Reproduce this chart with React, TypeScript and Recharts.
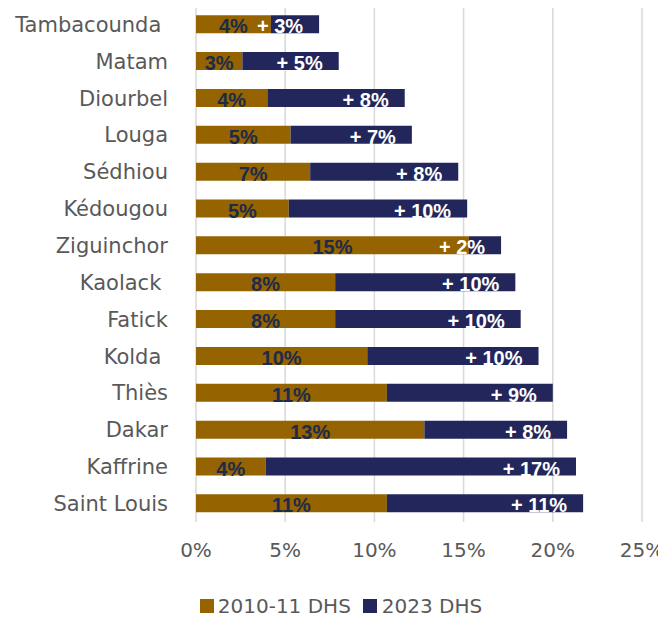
import React from "react";
import { BarChart, Bar, XAxis, YAxis, CartesianGrid, LabelList, Legend } from "recharts";

const regions = [
  "Tambacounda\u00a0",
  "Matam",
  "Diourbel",
  "Louga",
  "Sédhiou",
  "Kédougou",
  "Ziguinchor",
  "Kaolack\u00a0",
  "Fatick",
  "Kolda\u00a0",
  "Thiès",
  "Dakar",
  "Kaffrine",
  "Saint Louis",
];
const dhs2010 = [4.2, 2.6, 4.0, 5.3, 6.4, 5.2, 15.3, 7.8, 7.8, 9.6, 10.7, 12.8, 3.9, 10.7];
const gain2023 = [2.7, 5.4, 7.7, 6.8, 8.3, 10.0, 1.8, 10.1, 10.4, 9.6, 9.3, 8.0, 17.4, 11.0];
const labels2010 = ["4%", "3%", "4%", "5%", "7%", "5%", "15%", "8%", "8%", "10%", "11%", "13%", "4%", "11%"];
const labelsGain = ["+ 3%", "+ 5%", "+ 8%", "+ 7%", "+ 8%", "+ 10%", "+ 2%", "+ 10%", "+ 10%", "+ 10%", "+ 9%", "+ 8%", "+ 17%", "+ 11%"];
const xTicks = [0, 5, 10, 15, 20, 25];

const GOLD = "#956300";
const NAVY = "#22265a";
const labelFont = "'Liberation Sans', Arial, sans-serif";
const textFont = "'DejaVu Sans', sans-serif";

const data = regions.map((name, i) => ({
  name,
  base: dhs2010[i],
  gain: gain2023[i],
  baseLabel: labels2010[i],
  gainLabel: labelsGain[i],
}));

// gold segment: dark label centred in the bar
const CenterLabel = (props: any) => {
  const { x, y, width, height, value } = props;
  return (
    <text
      x={x + width / 2}
      y={y + height / 2 + 2}
      textAnchor="middle"
      dominantBaseline="central"
      fill="#1d2b4a"
      fontFamily={labelFont}
      fontWeight="bold"
      fontSize={20}
    >
      {value}
    </text>
  );
};

// navy segment: white label near the end
const EndLabel = (props: any) => {
  const { x, y, width, height, value } = props;
  return (
    <text
      x={x + width - 16}
      y={y + height / 2 + 2}
      textAnchor="end"
      dominantBaseline="central"
      fill="#ffffff"
      fontFamily={labelFont}
      fontWeight="bold"
      fontSize={20}
    >
      {value}
    </text>
  );
};

const LegendBox = () => (
  <div
    style={{
      display: "flex",
      justifyContent: "center",
      alignItems: "center",
      fontFamily: textFont,
      fontSize: 20,
      lineHeight: "24px",
      color: "#595959",
      paddingLeft: 16,
    }}
  >
    <span style={{ width: 14, height: 14, background: GOLD, marginRight: 4 }} />
    <span style={{ marginRight: 12 }}>2010-11 DHS</span>
    <span style={{ width: 14, height: 14, background: NAVY, marginRight: 5 }} />
    <span>2023 DHS</span>
  </div>
);

const App = () => {
  return (
    <div style={{ margin: "-8px 0 0 -8px", width: 666, height: 617 }}>
      <BarChart
        width={666}
        height={617}
        data={data}
        layout="vertical"
        barCategoryGap="25%"
        margin={{ top: 6, right: 24, bottom: 55, left: 0 }}
      >
        <CartesianGrid horizontal={false} stroke="#d9d9d9" strokeWidth={1.5} />
        <XAxis
          type="number"
          domain={[0, 25]}
          ticks={xTicks}
          tickFormatter={(v: number) => `${v}%`}
          axisLine={false}
          tickLine={false}
          tickMargin={15}
          height={40}
          tick={{ fill: "#595959", fontSize: 20, fontFamily: textFont }}
        />
        <YAxis
          type="category"
          dataKey="name"
          width={196}
          axisLine={false}
          tickLine={false}
          tickMargin={22}
          interval={0}
          tick={{ fill: "#595959", fontSize: 21, fontFamily: textFont }}
        />
        <Legend
          layout="horizontal"
          verticalAlign="middle"
          align="center"
          wrapperStyle={{ top: 594, left: 0, width: 666, height: 24 }}
          content={() => <LegendBox />}
        />
        <Bar dataKey="base" name="2010-11 DHS" stackId="a" fill={GOLD} isAnimationActive={false}>
          <LabelList dataKey="baseLabel" content={CenterLabel} />
        </Bar>
        <Bar dataKey="gain" name="2023 DHS" stackId="a" fill={NAVY} isAnimationActive={false}>
          <LabelList dataKey="gainLabel" content={EndLabel} />
        </Bar>
      </BarChart>
    </div>
  );
};

export default App;
